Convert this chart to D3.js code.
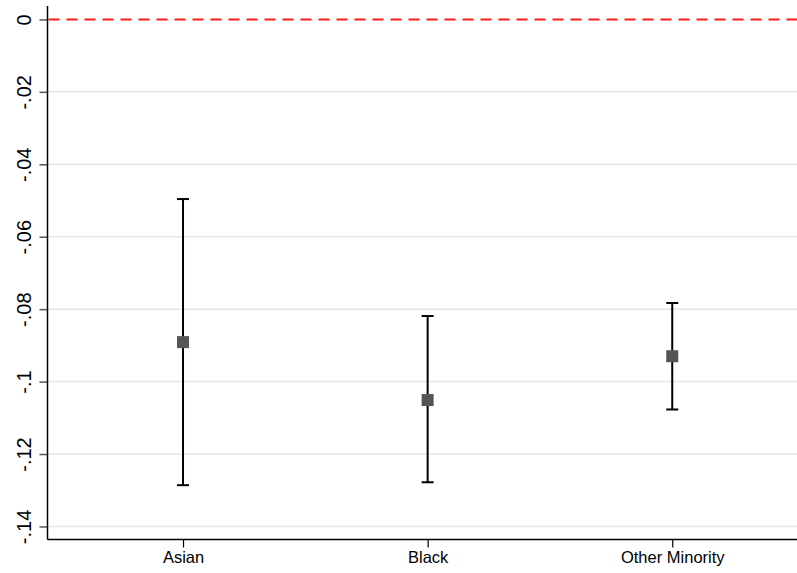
<!DOCTYPE html>
<html>
<head>
<meta charset="utf-8">
<script src="https://cdn.jsdelivr.net/npm/d3@7"></script>
<style>
  body { margin: 0; background: #fff; }
  text { font-family: "Liberation Sans", Arial, sans-serif; fill: #000; }
</style>
</head>
<body>
<div id="viz_div"></div>
<script>
// categories and estimates
var groups = ["Asian", "Black", "Other Minority"];
var coef   = [-0.0891, -0.1051, -0.0930];
var ci_lo  = [-0.1286, -0.1278, -0.1077];
var ci_hi  = [-0.0496, -0.0819, -0.0783];
var y_ticks = [0, -0.02, -0.04, -0.06, -0.08, -0.1, -0.12, -0.14];
var y_tick_labels = ["0", "-.02", "-.04", "-.06", "-.08", "-.1", "-.12", "-.14"];
var ref_value = 0;

var w = 797, h = 573;
// note: "top" is taken by window.top, so use plot_* names
var plot_l = 47.5, plot_r = 797, plot_t = 6, plot_b = 539.5;

var x = d3.scaleLinear().domain([0.446, 3.51]).range([plot_l, plot_r]);
var y = d3.scaleLinear().domain([0.0037, -0.1436]).range([plot_t, plot_b]);

var svg = d3.select("#viz_div")
	.append("svg")
	.attr("width", w)
	.attr("height", h);

// grid lines
svg.selectAll("line.grid")
	.data(y_ticks.filter(function(d) { return d !== 0; }))
	.enter()
	.append("line")
	.attr("class", "grid")
	.attr("x1", plot_l)
	.attr("x2", plot_r)
	.attr("y1", function(d) { return y(d); })
	.attr("y2", function(d) { return y(d); })
	.attr("stroke", "#e6e6e6")
	.attr("stroke-width", 1.5);

// reference line at zero
svg.append("line")
	.attr("x1", plot_l + 1)
	.attr("x2", plot_r)
	.attr("y1", y(ref_value))
	.attr("y2", y(ref_value))
	.attr("stroke", "#ff1a1a")
	.attr("stroke-width", 2)
	.attr("stroke-dasharray", "11,7");

// y axis
var y_axis = d3.axisLeft(y)
	.tickValues(y_ticks)
	.tickSize(8)
	.tickFormat(function(d, i) { return y_tick_labels[i]; });

var gy = svg.append("g")
	.attr("transform", "translate(" + plot_l + ",0)")
	.call(y_axis);
gy.select(".domain").remove();
gy.selectAll(".tick line").attr("stroke", "#555").attr("stroke-width", 1.5);
gy.selectAll(".tick text")
	.attr("font-size", 20)
	.attr("text-anchor", "middle")
	.attr("x", 0)
	.attr("y", 0)
	.attr("dy", 0)
	.attr("transform", "translate(-17,0) rotate(-90)");

svg.append("line")
	.attr("x1", plot_l).attr("x2", plot_l)
	.attr("y1", plot_t).attr("y2", plot_b)
	.attr("stroke", "#000").attr("stroke-width", 1.5);

// x axis
var x_axis = d3.axisBottom(x)
	.tickValues([1, 2, 3])
	.tickSize(8)
	.tickPadding(4)
	.tickFormat(function(d) { return groups[d - 1]; });

var gx = svg.append("g")
	.attr("transform", "translate(0," + plot_b + ")")
	.call(x_axis);
gx.select(".domain").remove();
gx.selectAll(".tick line").attr("stroke", "#000").attr("stroke-width", 1.2);
gx.selectAll(".tick text").attr("font-size", 16.5);

svg.append("line")
	.attr("x1", plot_l).attr("x2", plot_r)
	.attr("y1", plot_b).attr("y2", plot_b)
	.attr("stroke", "#000").attr("stroke-width", 1.5);

// error bars
var rows = groups.map(function(g, i) {
	return { pos: i + 1, est: coef[i], lo: ci_lo[i], hi: ci_hi[i] };
});

var bars = svg.selectAll("g.bar")
	.data(rows)
	.enter()
	.append("g")
	.attr("class", "bar");

bars.append("line")
	.attr("x1", function(d) { return x(d.pos); })
	.attr("x2", function(d) { return x(d.pos); })
	.attr("y1", function(d) { return y(d.hi); })
	.attr("y2", function(d) { return y(d.lo); })
	.attr("stroke", "#000")
	.attr("stroke-width", 2);

["hi", "lo"].forEach(function(k) {
	bars.append("line")
		.attr("x1", function(d) { return x(d.pos) - 6; })
		.attr("x2", function(d) { return x(d.pos) + 6; })
		.attr("y1", function(d) { return y(d[k]); })
		.attr("y2", function(d) { return y(d[k]); })
		.attr("stroke", "#000")
		.attr("stroke-width", 2);
});

bars.append("rect")
	.attr("x", function(d) { return x(d.pos) - 6; })
	.attr("y", function(d) { return y(d.est) - 6; })
	.attr("width", 12)
	.attr("height", 12)
	.attr("fill", "#555");
</script>
</body>
</html>
